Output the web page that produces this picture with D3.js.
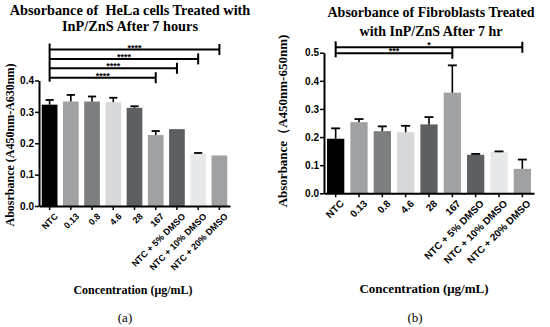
<!DOCTYPE html>
<html>
<head>
<meta charset="utf-8">
<script src="https://cdn.jsdelivr.net/npm/d3@7"></script>
<style>
  html, body { margin: 0; padding: 0; background: #fff; }
  svg { display: block; }
  .tick text { font-family: "Liberation Sans", Arial, sans-serif; font-weight: bold; }
  .title { white-space: pre; }
</style>
</head>
<body>
<svg id="chart" width="550" height="327"></svg>
<script>
// categories shared by both panels
const categories = ["NTC", "0.13", "0.8", "4.6", "28", "167",
  "NTC + 5% DMSO", "NTC + 10% DMSO", "NTC + 20% DMSO"];

// bar fill per category (same palette in both panels)
const barColors = ["#000000", "#a0a1a2", "#7c7f80", "#d6d8d9", "#5d6062",
  "#a0a1a2", "#5d6062", "#e6e8e9", "#a0a1a2"];

// panel (a): HeLa cells
const helaMeans = [0.323, 0.333, 0.333, 0.331, 0.313, 0.226, 0.245, 0.167, 0.161];
const helaErrors = [0.015, 0.021, 0.016, 0.014, 0.005, 0.013, 0, 0.002, 0];
const helaTicks = [0, 0.1, 0.2, 0.3, 0.4];
const helaBrackets = [
  { from: "NTC", to: "167", label: "****" },
  { from: "NTC", to: "NTC + 5% DMSO", label: "****" },
  { from: "NTC", to: "NTC + 10% DMSO", label: "****" },
  { from: "NTC", to: "NTC + 20% DMSO", label: "****" }
];

// panel (b): fibroblasts
const fibroMeans = [0.194, 0.253, 0.221, 0.217, 0.245, 0.358, 0.137, 0.147, 0.087];
const fibroErrors = [0.037, 0.011, 0.017, 0.023, 0.026, 0.097, 0.003, 0.002, 0.033];
const fibroTicks = [0, 0.1, 0.2, 0.3, 0.4, 0.5];
const fibroBrackets = [
  { from: "NTC", to: "167", label: "***" },
  { from: "NTC", to: "NTC + 20% DMSO", label: "*" }
];

const svg = d3.select("#chart");
svg.append("rect").attr("width", 550).attr("height", 327).attr("fill", "#fff");

const serif = "'Liberation Serif', 'Times New Roman', serif";

function drawPanel(p) {
  const g = svg.append("g");
  const x = d3.scaleBand().domain(categories)
    .range([p.x0, p.x1]).paddingInner(0.26).paddingOuter(0.13);
  const y = d3.scaleLinear().domain([0, d3.max(p.ticks)]).range([p.yBottom, p.yTop]);

  // bars
  g.selectAll("rect.bar").data(p.means).join("rect")
    .attr("x", (d, i) => x(categories[i]))
    .attr("y", d => y(d))
    .attr("width", x.bandwidth())
    .attr("height", d => y(0) - y(d))
    .attr("fill", (d, i) => barColors[i]);

  // error bars (upper whisker only)
  const cap = x.bandwidth() * 0.26;
  p.means.forEach((m, i) => {
    const e = p.errors[i];
    if (!e) return;
    const cx = x(categories[i]) + x.bandwidth() / 2;
    g.append("line").attr("x1", cx).attr("x2", cx)
      .attr("y1", y(m)).attr("y2", y(m + e))
      .attr("stroke", "#000").attr("stroke-width", 1.6);
    g.append("line").attr("x1", cx - cap).attr("x2", cx + cap)
      .attr("y1", y(m + e)).attr("y2", y(m + e))
      .attr("stroke", "#000").attr("stroke-width", 1.8);
  });

  // y axis
  const ya = g.append("g").attr("transform", `translate(${p.x0},0)`)
    .call(d3.axisLeft(y).tickValues(p.ticks).tickFormat(d3.format(".1f")).tickSize(4).tickSizeOuter(0));
  ya.select(".domain").attr("stroke-width", 2);
  ya.selectAll(".tick line").attr("stroke-width", 1.5);
  ya.selectAll(".tick text").attr("font-size", 10).attr("x", -5);

  // x axis
  const xa = g.append("g").attr("transform", `translate(0,${p.yBottom})`)
    .call(d3.axisBottom(x).tickSize(4).tickSizeOuter(0));
  xa.select(".domain").attr("stroke-width", 2);
  xa.selectAll(".tick line").attr("stroke-width", 1.5);
  xa.selectAll(".tick text")
    .attr("font-size", p.xTickSize)
    .attr("text-anchor", "end")
    .attr("dy", 0)
    .attr("transform", "translate(4,6) rotate(-45)");

  // significance brackets
  const cx = c => x(c) + x.bandwidth() / 2;
  const levels = p.brackets.map((b, i) => p.bracketBase - i * p.bracketStep);
  const left = cx(p.brackets[0].from);
  g.append("line").attr("x1", left).attr("x2", left)
    .attr("y1", d3.min(levels) - 6).attr("y2", d3.max(levels) + 4)
    .attr("stroke", "#000").attr("stroke-width", 2);
  p.brackets.forEach((b, i) => {
    const ly = levels[i], x2 = cx(b.to);
    g.append("line").attr("x1", left).attr("x2", x2).attr("y1", ly).attr("y2", ly)
      .attr("stroke", "#000").attr("stroke-width", 2);
    g.append("line").attr("x1", x2).attr("x2", x2).attr("y1", ly - 5.5).attr("y2", ly + 5.5)
      .attr("stroke", "#000").attr("stroke-width", 2);
    g.append("text").attr("x", (left + x2) / 2).attr("y", ly + 1)
      .attr("text-anchor", "middle")
      .attr("font-family", "'Liberation Sans', Arial, sans-serif")
      .attr("font-size", 9).attr("font-weight", "bold")
      .text(b.label);
  });

  // titles & labels
  p.title.forEach((t, i) => {
    g.append("text").attr("class", "title")
      .attr("x", p.titleX).attr("y", p.titleY + i * p.titleGap)
      .attr("text-anchor", "middle").attr("font-family", serif)
      .attr("font-weight", "bold").attr("font-size", p.titleSize).text(t);
  });
  g.append("text")
    .attr("transform", `translate(${p.yLabelX},${p.yLabelY}) rotate(-90)`)
    .attr("text-anchor", "middle").attr("font-family", serif)
    .attr("font-weight", "bold").attr("font-size", p.yLabelSize).text(p.yLabel);
  g.append("text").attr("x", p.xLabelX).attr("y", p.xLabelY)
    .attr("text-anchor", "middle").attr("font-family", serif)
    .attr("font-weight", "bold").attr("font-size", p.xLabelSize).text("Concentration (μg/mL)");
  g.append("text").attr("x", p.tagX).attr("y", 322)
    .attr("text-anchor", "middle").attr("font-family", serif)
    .attr("font-size", 13).text(p.tag);
}

drawPanel({
  means: helaMeans, errors: helaErrors, ticks: helaTicks, brackets: helaBrackets,
  x0: 39, x1: 230, yBottom: 206, yTop: 80.5, xTickSize: 9,
  bracketBase: 77.7, bracketStep: 9.4,
  title: ["Absorbance of  HeLa cells Treated with", "InP/ZnS After 7 hours"],
  titleX: 130, titleY: 15, titleGap: 16, titleSize: 14.3,
  yLabel: "Abosrbance (A450nm-A630nm)", yLabelX: 14, yLabelY: 145, yLabelSize: 12,
  xLabelX: 133, xLabelY: 294, xLabelSize: 12, tagX: 125, tag: "(a)"
});

drawPanel({
  means: fibroMeans, errors: fibroErrors, ticks: fibroTicks, brackets: fibroBrackets,
  x0: 324, x1: 534, yBottom: 193.3, yTop: 52.7, xTickSize: 10,
  bracketBase: 53.3, bracketStep: 6,
  title: ["Absorbance of Fibroblasts Treated", "with InP/ZnS After 7 hr"],
  titleX: 431, titleY: 17, titleGap: 19, titleSize: 14,
  yLabel: "Absorbance（A450nm-650nm)", yLabelX: 287, yLabelY: 121, yLabelSize: 13,
  xLabelX: 424, xLabelY: 293, xLabelSize: 13, tagX: 415, tag: "(b)"
});
</script>
</body>
</html>
